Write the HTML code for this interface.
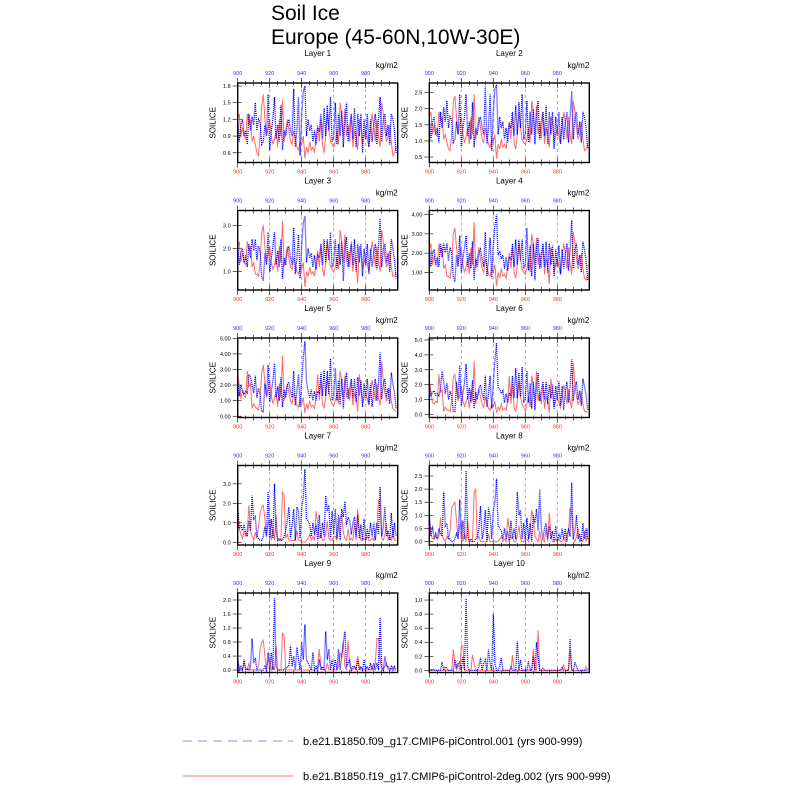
<!DOCTYPE html>
<html><head><meta charset="utf-8">
<style>
html,body{margin:0;padding:0;background:#fff;}
svg{display:block;font-family:"Liberation Sans",sans-serif;}
</style></head>
<body>
<svg id="chart" width="800" height="800" viewBox="0 0 800 800" xmlns="http://www.w3.org/2000/svg">
<text x="271" y="20" font-size="21">Soil Ice</text>
<text x="271" y="44" font-size="21">Europe (45-60N,10W-30E)</text>
<g id="panels"></g>
<g>
<line x1="183" y1="741" x2="293" y2="741" stroke="#8888ff" stroke-width="1" stroke-dasharray="9,6"/>
<text x="303" y="745" font-size="11">b.e21.B1850.f09_g17.CMIP6-piControl.001 (yrs 900-999)</text>
<line x1="183" y1="776" x2="293" y2="776" stroke="#ff7777" stroke-width="1"/>
<text x="303" y="780" font-size="11">b.e21.B1850.f19_g17.CMIP6-piControl-2deg.002 (yrs 900-999)</text>
</g>
</svg>
<script>
const startYear = 900;
const xTicks = [900,920,940,960,980];
const layerNames = ["Layer 1","Layer 2","Layer 3","Layer 4","Layer 5","Layer 6","Layer 7","Layer 8","Layer 9","Layer 10"];
const yTicks = [[0.6,0.9,1.2,1.5,1.8],[0.5,1.0,1.5,2.0,2.5],[1.0,2.0,3.0],[1,2,3,4],[0,1,2,3,4,5],[0,1,2,3,4,5],[0,1,2,3],[0,0.5,1.0,1.5,2.0,2.5],[0,0.4,0.8,1.2,1.6,2.0],[0,0.2,0.4,0.6,0.8,1.0]];
const yTickDecimals = [1,1,1,2,2,1,1,1,1,1];
const yMins = [0.425,0.33,0.21,0.09,-0.08,-0.2,-0.14,-0.13,-0.07,-0.03];
const yMaxs = [1.854,2.80,3.64,4.21,5.02,5.13,3.94,2.9,2.2,1.1];

const blue1=[1.2,0.8,1.1,1.2,0.9,1.0,0.75,1.3,1.0,1.25,1.1,1.5,1.0,1.2,1.15,0.75,0.8,1.1,0.9,1.65,0.65,1.0,1.2,1.6,0.85,1.1,0.8,1.45,0.65,1.0,0.9,1.1,1.2,1.0,0.9,1.75,0.7,1.0,1.6,0.55,1.3,1.7,1.8,0.9,1.2,1.0,1.1,0.8,1.0,0.75,1.05,1.0,1.3,0.85,1.4,0.9,1.45,1.0,1.6,0.8,0.9,1.5,0.75,1.3,0.9,1.35,0.7,1.2,1.5,0.8,1.1,1.3,0.85,1.4,0.7,1.3,0.9,1.3,0.6,1.2,0.85,1.3,0.7,1.2,0.8,1.1,1.3,0.75,1.2,1.6,0.8,1.2,1.3,0.9,1.1,0.75,1.3,1.2,1.0,0.6];
const red1=[1.2,1.3,0.9,1.05,0.9,0.85,1.3,1.1,1.2,0.8,0.9,0.75,0.6,0.55,0.9,1.45,1.65,1.2,0.9,1.05,1.2,0.9,0.75,0.85,1.0,0.7,1.2,0.9,1.55,0.8,1.0,1.2,1.0,0.8,0.75,1.0,0.85,0.7,0.65,0.8,0.75,0.9,0.5,0.7,0.6,0.8,0.65,0.7,0.6,0.9,1.1,0.8,1.2,0.75,0.6,0.9,1.3,1.0,0.8,0.75,0.7,0.8,1.0,0.75,1.5,1.3,0.9,1.4,0.9,1.1,0.8,1.3,0.7,1.0,0.9,0.65,1.2,1.1,0.75,0.9,1.0,0.85,0.7,1.0,1.3,1.1,0.8,1.2,0.9,0.7,1.5,1.3,1.0,0.8,0.9,1.1,0.8,0.55,0.6,0.7];
const blue2=[1.75,1.05,1.6,1.75,1.2,1.4,0.95,1.9,1.4,2.05,1.6,2.25,1.4,1.75,1.65,0.95,1.05,1.6,1.2,2.45,0.8,1.4,1.75,2.45,1.15,1.6,1.05,2.2,0.8,1.4,1.2,1.6,1.75,1.4,1.2,2.7,0.9,1.4,2.45,0.7,1.9,2.6,2.75,1.2,1.75,1.4,1.6,1.05,1.4,0.95,1.5,1.4,1.9,1.15,2.1,1.2,2.2,1.4,2.45,1.05,1.2,2.25,0.95,1.9,1.2,2.0,0.9,1.75,2.25,1.05,1.6,1.9,1.15,2.1,0.9,1.9,1.2,1.9,0.75,1.75,1.15,1.9,0.9,1.75,1.05,1.6,1.9,0.95,1.75,2.55,1.05,1.75,1.9,1.2,1.6,0.95,1.9,1.75,1.4,0.75];
const red2=[1.75,1.9,1.2,1.5,1.2,1.15,1.9,1.6,1.75,1.05,1.2,0.95,0.75,0.7,1.2,2.2,2.4,1.75,1.2,1.5,1.75,1.2,0.95,1.15,1.4,0.9,1.75,1.2,2.45,1.05,1.4,1.75,1.4,1.05,0.95,1.4,1.15,0.9,0.8,1.05,0.95,1.2,0.45,0.9,0.75,1.05,0.8,0.9,0.75,1.2,1.6,1.05,1.75,0.95,0.75,1.2,1.9,1.4,1.05,0.95,0.9,1.05,1.4,0.95,2.25,1.9,1.2,2.1,1.2,1.6,1.05,1.9,0.9,1.4,1.2,0.8,1.75,1.6,0.95,1.2,1.4,1.15,0.9,1.4,1.9,1.6,1.05,1.75,1.2,0.9,2.25,1.9,1.4,1.05,1.2,1.6,1.05,0.7,0.75,0.9];
const blue3=[2.1,1.3,1.8,2.0,1.4,1.7,1.2,2.2,1.6,2.4,1.9,2.4,1.5,2.1,1.9,0.8,0.6,1.8,1.3,2.7,1.0,1.6,2.1,2.7,1.3,1.9,1.2,2.4,0.7,1.6,1.3,1.9,2.1,1.6,1.3,2.9,0.9,1.6,2.6,0.7,2.2,3.1,3.4,1.4,2.0,1.6,1.8,1.2,1.7,1.1,1.7,1.6,2.2,1.3,2.4,1.4,2.4,1.5,2.7,1.2,1.4,2.4,1.1,2.2,1.3,2.3,0.6,2.0,2.5,1.2,1.8,2.2,1.3,2.4,1.0,2.2,1.4,2.2,0.8,2.0,1.3,2.2,0.9,2.0,1.2,1.8,2.2,1.1,2.0,3.3,1.2,2.0,2.2,1.4,1.8,1.0,2.4,2.0,1.5,0.7];
const red3=[2.0,2.3,1.4,1.8,1.4,1.3,2.3,1.9,2.1,1.2,1.4,0.9,0.9,0.8,1.4,2.7,3.0,2.1,1.4,1.8,2.1,1.4,1.1,1.3,1.6,1.0,2.1,1.4,3.2,1.2,1.6,2.1,1.6,1.2,1.1,1.6,1.3,1.0,0.9,1.2,1.1,1.4,0.35,1.0,0.8,1.2,0.9,1.0,0.8,1.4,1.9,1.2,2.1,1.1,0.8,1.4,2.3,1.6,1.2,1.1,1.0,1.2,1.6,1.1,2.8,2.3,1.4,2.6,1.4,1.9,1.2,2.3,1.0,1.6,1.4,0.5,2.1,1.9,1.1,1.4,1.6,1.3,1.0,1.6,2.3,1.9,1.2,2.1,1.4,1.0,2.8,2.3,1.6,1.2,1.4,1.9,1.2,0.8,0.8,1.0];
const blue4=[2.4,1.3,2.0,2.2,1.4,1.8,1.3,2.5,1.8,2.5,2.0,2.5,1.6,2.3,2.0,0.8,0.5,1.9,1.3,2.9,1.0,1.7,2.3,2.9,1.3,2.0,1.2,2.6,0.6,1.7,1.3,2.0,2.2,1.7,1.3,3.1,0.8,1.7,2.8,0.7,2.4,3.4,4.0,1.9,2.1,1.7,1.9,1.2,1.8,1.1,1.8,1.7,2.5,1.3,2.7,1.4,2.7,1.6,2.7,1.2,1.4,3.3,1.1,2.4,0.8,2.5,0.6,2.2,2.8,1.2,1.9,2.5,1.3,2.6,1.0,2.5,1.4,2.4,0.8,2.2,1.3,2.4,0.9,2.2,1.2,1.9,2.5,1.1,2.2,3.7,1.2,2.2,2.5,1.4,1.9,1.0,2.6,2.2,1.6,0.6];
const red4=[2.2,2.5,1.4,1.9,1.4,1.3,2.5,2.0,2.3,1.2,1.4,0.8,0.8,0.7,1.4,3.0,3.3,2.3,1.4,1.9,2.3,1.4,1.0,1.3,1.7,0.9,2.3,1.4,3.6,1.2,1.7,2.3,1.7,1.2,1.0,1.7,1.3,0.9,0.8,1.2,1.0,1.4,0.3,1.0,0.7,1.2,0.8,0.9,0.7,1.4,2.0,1.2,2.3,1.0,0.7,1.4,2.5,1.7,1.2,1.0,0.9,1.2,1.7,1.0,3.0,2.5,1.4,2.8,1.4,2.0,1.2,2.5,0.9,1.7,1.4,0.4,2.3,2.0,1.0,1.4,1.7,1.3,0.9,1.7,2.5,2.0,1.2,2.3,1.4,0.9,3.1,2.5,1.7,1.2,1.4,2.0,1.2,0.7,0.6,0.9];
const blue5=[2.2,1.3,2.0,1.6,1.4,1.6,1.5,2.7,2.5,2.0,1.5,2.6,1.2,1.8,1.4,0.3,0.3,2.1,1.3,3.3,0.9,1.6,2.3,3.4,1.2,1.9,1.0,2.5,0.6,1.7,1.2,2.0,2.2,1.6,1.2,2.9,0.7,1.6,2.7,0.6,2.3,3.8,4.8,2.2,1.6,1.2,1.7,1.0,1.6,1.0,1.6,1.5,2.8,1.3,3.0,1.3,2.9,1.4,3.7,1.0,1.3,3.1,1.0,2.3,0.7,2.4,0.5,2.1,2.8,1.1,1.8,2.4,1.2,2.4,0.9,2.5,1.3,2.3,0.6,2.1,1.2,2.4,0.8,2.1,0.6,1.7,2.4,1.0,2.1,4.1,1.1,2.1,2.4,1.2,1.8,0.8,2.8,2.1,1.5,0.5];
const red5=[2.7,2.0,1.1,1.7,1.3,1.2,2.9,1.9,2.1,0.5,0.8,0.6,0.5,0.4,1.2,2.8,3.3,2.1,1.2,1.7,2.3,1.3,0.8,1.2,1.5,0.6,2.1,1.2,3.9,1.0,1.5,2.1,1.5,1.0,0.8,1.5,1.1,0.7,0.6,1.0,0.8,1.2,0.2,0.8,0.5,1.0,0.6,0.7,0.5,1.2,2.7,1.0,2.3,0.8,0.5,1.2,2.5,1.5,1.0,0.8,0.7,1.0,1.5,0.8,2.9,2.3,1.2,2.6,1.2,1.8,1.0,2.3,0.7,1.5,1.2,0.3,2.7,1.8,0.8,1.2,1.5,1.1,0.7,1.5,2.3,1.8,1.0,2.1,1.2,0.7,3.5,2.3,1.5,1.0,1.2,1.8,1.0,0.5,0.4,0.3];
const blue6=[2.1,1.3,1.5,1.6,1.3,1.4,1.2,1.8,2.9,2.2,1.4,2.1,1.0,1.5,1.3,0.2,0.2,2.2,1.1,3.3,0.6,1.4,2.1,3.4,1.0,1.8,0.8,2.3,0.4,1.5,1.0,1.8,2.0,1.4,1.0,2.6,0.5,1.4,2.6,0.4,2.1,3.6,4.8,1.8,1.7,1.4,1.6,0.8,1.4,0.8,1.4,1.3,2.6,1.1,3.1,1.1,2.8,1.2,3.2,0.8,1.1,2.9,0.8,2.1,0.4,2.2,0.3,1.9,2.8,0.9,1.6,2.2,1.0,2.2,0.7,2.0,1.1,2.0,0.4,1.9,1.0,2.2,0.6,1.9,0.3,1.5,2.2,0.8,1.9,3.7,0.9,1.9,2.2,1.0,1.6,0.6,2.4,1.9,1.3,0.3];
const red6=[2.4,1.5,0.8,0.7,0.9,0.8,2.7,1.5,1.7,0.2,0.5,0.3,0.3,0.2,0.9,2.5,2.7,1.7,0.9,1.3,1.9,1.0,0.5,0.9,1.2,0.4,1.7,0.9,3.6,0.7,1.2,1.7,1.2,0.7,0.5,1.2,0.8,0.4,0.3,0.7,0.5,0.9,0.1,0.5,0.3,0.7,0.3,0.4,0.3,0.9,2.6,0.7,2.0,0.5,0.2,0.9,2.2,1.2,0.7,0.5,0.2,0.7,1.2,0.5,2.6,2.0,0.9,2.9,0.9,1.5,0.7,2.0,0.4,1.2,0.9,0.1,2.4,1.5,0.5,0.9,1.2,0.8,0.4,1.2,2.0,1.5,0.7,1.7,0.9,0.4,3.5,2.0,1.2,0.7,0.9,1.5,0.7,0.2,0.2,0.1];
const blue7=[1.9,0.7,0.9,0.6,0.9,0.5,0.3,1.1,0.6,2.4,1.2,1.3,0.3,0.2,0.1,0.1,0.3,0.8,0.3,2.6,0.2,1.2,0.2,3.0,0.6,0.1,0.2,0.1,0.1,0.3,0.6,1.1,1.8,0.2,0.9,1.7,0.1,1.8,1.6,0.2,1.8,2.3,3.75,1.2,1.1,0.9,0.3,1.0,0.4,0.9,0.1,1.4,0.2,1.0,0.3,2.4,1.6,1.9,0.2,1.6,0.4,1.7,0.2,1.4,0.1,1.7,1.3,2.1,0.9,1.3,1.1,0.4,1.0,1.3,0.3,1.4,0.2,0.9,0.1,1.2,0.1,0.7,0.2,1.0,0.3,1.0,0.1,1.0,0.4,2.85,0.3,0.8,1.8,0.3,0.6,0.1,1.5,0.2,1.0,0.3];
const red7=[1.4,0.7,0.4,0.2,0.6,0.3,0.6,1.9,0.6,0.3,0.1,0.5,0.2,0.8,1.5,1.8,1.9,1.2,0.3,1.0,1.1,0.1,0.7,0.1,1.4,0.1,0.1,0.1,2.6,2.4,0.2,0.4,0.1,0.1,0.1,0.1,0.1,0.6,0.1,0.1,0.0,0.0,0.0,0.1,0.2,0.4,0.1,0.3,0.1,1.6,1.0,0.2,0.4,0.1,0.1,0.4,1.1,0.2,0.1,0.1,0.3,0.3,0.1,0.8,1.3,1.4,0.5,0.2,0.1,0.7,0.1,0.2,0.1,1.0,0.1,1.7,0.6,0.1,0.1,0.2,0.1,0.3,0.1,0.1,0.2,0.1,0.6,0.8,2.2,1.9,0.2,0.1,0.4,1.0,0.1,0.3,0.1,0.8,0.1,0.1];
const blue8=[1.1,0.2,0.6,0.1,0.3,0.1,0.5,0.3,0.2,1.9,0.6,0.7,0.1,0.1,0.0,0.0,0.1,0.3,0.1,1.6,0.1,0.8,0.1,2.7,0.2,0.0,0.1,0.0,0.0,0.1,0.2,0.5,1.35,0.1,0.4,1.2,0.0,1.3,1.0,0.1,1.2,1.5,2.4,0.6,0.5,0.4,0.1,0.5,0.1,0.4,0.0,0.8,0.1,0.5,0.1,1.9,1.0,1.2,0.1,0.7,0.1,0.9,0.1,0.7,0.0,1.0,0.7,1.25,0.4,2.0,0.5,0.1,0.5,0.7,0.1,0.6,0.1,0.4,0.0,0.6,0.0,0.3,0.1,0.5,0.1,0.5,0.0,0.5,0.2,2.25,0.1,0.4,1.0,0.1,0.3,0.0,0.7,0.1,0.5,0.1];
const red8=[0.9,0.3,0.1,0.1,0.2,0.1,0.2,0.9,0.2,0.1,0.0,0.2,0.1,0.4,1.3,1.4,1.5,0.8,0.1,0.6,0.7,0.0,0.3,0.0,0.8,0.0,0.0,0.0,1.9,2.0,0.1,0.2,0.0,0.0,0.0,0.0,0.0,0.3,0.0,0.0,0.0,0.0,0.0,0.0,0.1,0.2,0.0,0.1,0.0,0.9,0.5,0.1,0.2,0.0,0.0,0.2,0.6,0.1,0.0,0.0,0.1,0.1,0.0,0.4,1.2,0.9,0.2,0.1,0.0,0.4,0.0,0.1,0.0,0.5,0.0,1.1,0.3,0.0,0.0,0.1,0.0,0.1,0.0,0.0,0.1,0.0,0.3,0.4,1.3,1.1,0.1,0.0,0.2,0.5,0.0,0.1,0.0,0.4,0.0,0.5];
const blue9=[0.35,0.0,0.1,0.0,0.3,0.0,0.05,0.0,0.1,0.9,0.2,0.35,0.0,0.0,0.0,0.0,0.0,0.1,0.0,0.5,0.0,0.5,0.0,2.05,0.1,0.0,0.0,0.0,0.0,0.0,0.05,0.1,0.1,0.7,0.1,0.4,0.0,0.65,0.3,0.0,0.8,0.3,1.3,0.3,0.2,0.1,0.0,0.5,0.0,0.1,0.0,0.3,0.0,0.1,0.0,1.1,0.3,0.6,0.0,0.3,0.0,0.3,0.0,0.6,0.0,0.4,0.8,1.1,0.1,0.2,0.3,0.0,0.1,0.1,0.0,0.3,0.0,0.1,0.0,0.3,0.0,0.1,0.0,0.2,0.0,0.2,0.0,0.2,0.0,1.5,0.1,0.0,0.4,0.1,0.1,0.0,0.1,0.0,0.1,0.0];
const red9=[0.25,0.05,0.0,0.0,0.2,0.05,0.0,0.2,0.0,0.0,0.0,0.0,0.0,0.1,0.6,0.8,0.85,0.4,0.0,0.3,0.35,0.0,0.1,0.0,0.7,0.0,0.0,0.0,1.05,1.0,0.0,0.0,0.0,0.0,0.0,0.0,0.0,0.0,0.0,0.0,0.0,0.0,0.0,0.0,0.0,0.0,0.0,0.0,0.0,0.0,0.1,0.6,0.1,0.0,0.0,0.0,0.2,0.0,0.0,0.0,0.0,0.0,0.0,0.1,0.5,0.35,0.8,0.1,0.0,0.85,0.1,0.0,0.0,0.1,0.0,0.4,0.1,0.0,0.0,0.0,0.0,0.0,0.0,0.0,0.1,0.0,0.2,0.9,0.9,0.3,0.0,0.0,0.1,0.2,0.0,0.0,0.0,0.1,0.0,0.0];
const blue10=[0.0,0.0,0.02,0.0,0.0,0.0,0.0,0.0,0.12,0.0,0.05,0.03,0.0,0.0,0.0,0.0,0.15,0.05,0.1,0.12,0.0,0.2,0.0,1.02,0.05,0.0,0.0,0.0,0.0,0.0,0.0,0.05,0.18,0.0,0.1,0.15,0.0,0.3,0.1,0.0,0.8,0.1,0.0,0.0,0.05,0.18,0.0,0.0,0.0,0.0,0.0,0.05,0.0,0.0,0.0,0.41,0.0,0.15,0.0,0.0,0.0,0.0,0.13,0.0,0.0,0.2,0.0,0.4,0.2,0.0,0.0,0.03,0.0,0.0,0.0,0.0,0.0,0.0,0.0,0.0,0.0,0.0,0.0,0.05,0.0,0.0,0.0,0.0,0.45,0.0,0.0,0.12,0.05,0.0,0.0,0.0,0.0,0.0,0.0,0.0];
const red10=[0.02,0.0,0.0,0.0,0.0,0.0,0.0,0.0,0.0,0.0,0.0,0.0,0.0,0.0,0.0,0.3,0.1,0.0,0.1,0.0,0.35,0.35,0.0,0.0,0.0,0.0,0.0,0.22,0.1,0.0,0.0,0.0,0.0,0.0,0.0,0.0,0.0,0.0,0.0,0.0,0.0,0.0,0.0,0.0,0.0,0.0,0.0,0.0,0.0,0.0,0.0,0.0,0.22,0.0,0.0,0.0,0.0,0.0,0.0,0.0,0.0,0.0,0.0,0.0,0.0,0.3,0.0,0.0,0.57,0.0,0.0,0.0,0.0,0.0,0.0,0.0,0.0,0.0,0.0,0.0,0.0,0.0,0.0,0.0,0.08,0.0,0.0,0.0,0.28,0.0,0.0,0.0,0.0,0.0,0.0,0.0,0.0,0.0,0.05,0.0];

const blueSeries=[blue1,blue2,blue3,blue4,blue5,blue6,blue7,blue8,blue9,blue10];
const redSeries=[red1,red2,red3,red4,red5,red6,red7,red8,red9,red10];

const NS="http://www.w3.org/2000/svg";
const root=document.getElementById('panels');
function mk(tag,attrs,parent){const e=document.createElementNS(NS,tag);for(const k in attrs)e.setAttribute(k,attrs[k]);parent.appendChild(e);return e;}
const colLeft=[237.7,429.3], boxW=160, boxH=79.5, rowTop=[83,210.5,338,465.5,593];

for(let p=0;p<10;p++){
  const L=colLeft[p%2], T=rowTop[Math.floor(p/2)], B=T+boxH, R=L+boxW;
  const g=mk('g',{},root);
  
  
  const xs=v=>L+(v-startYear)/100*boxW;
  const ys=v=>B-(v-yMins[p])/(yMaxs[p]-yMins[p])*boxH;
  const t1=mk('text',{x:(L+R)/2,y:T-27,'font-size':8,'text-anchor':'middle'},g);t1.textContent=layerNames[p];
  
  
  const un=mk('text',{x:R,y:T-15,'font-size':8,'text-anchor':'end'},g);un.textContent='kg/m2';
  
  
  const yl=mk('text',{x:0,y:0,'font-size':8,'text-anchor':'middle',transform:`translate(${L-22},${(T+B)/2}) rotate(-90)`},g);yl.textContent='SOILICE';
  
  
  xTicks.slice(1).forEach(v=>{const gl=mk('line',{x1:xs(v),x2:xs(v),y1:T,y2:B,stroke:'#999','stroke-width':0.8,'stroke-dasharray':'3,3'},g);
    
    });
  for(let v=900;v<1000;v+=5){const len=(v%20===0)?5:(v%10===0?3:2);
    mk('line',{x1:xs(v),x2:xs(v),y1:B,y2:B-len,stroke:'#000','stroke-width':0.6},g);
    mk('line',{x1:xs(v),x2:xs(v),y1:T,y2:T+len,stroke:'#000','stroke-width':0.6},g);
    mk('line',{x1:xs(v),x2:xs(v),y1:B,y2:B+len,stroke:'#000','stroke-width':0.6},g);
    mk('line',{x1:xs(v),x2:xs(v),y1:T,y2:T-len,stroke:'#000','stroke-width':0.6},g);}
  xTicks.forEach(v=>{
    const a=mk('text',{x:xs(v),y:B+11,'font-size':5.5,'text-anchor':'middle',fill:'#ff3030'},g);a.textContent=v;
    
    
    const b=mk('text',{x:xs(v),y:T-8,'font-size':5.5,'text-anchor':'middle',fill:'#3030ff'},g);b.textContent=v;
    
    });
  yTicks[p].forEach(v=>{const y=ys(v);
    mk('line',{x1:L,x2:L-5,y1:y,y2:y,stroke:'#000','stroke-width':0.6},g);
    mk('line',{x1:L,x2:L+4,y1:y,y2:y,stroke:'#000','stroke-width':0.6},g);
    const t=mk('text',{x:L-7,y:y+2,'font-size':5.5,'text-anchor':'end'},g);t.textContent=v.toFixed(yTickDecimals[p]);
    
    });
  const clipId='clip'+p;
  const cp=mk('clipPath',{id:clipId},g);mk('rect',{x:L,y:T,width:boxW,height:boxH},cp);
  const toPts=arr=>arr.map((v,i)=>xs(startYear+i).toFixed(2)+','+ys(v).toFixed(2)).join(' ');
  const rl=mk('polyline',{points:toPts(redSeries[p]),fill:'none',stroke:'#ff5050','stroke-opacity':0.85,'stroke-width':1,'clip-path':`url(#${clipId})`},g);
  
  
  const bl=mk('polyline',{points:toPts(blueSeries[p]),fill:'none',stroke:'#0000ff','stroke-width':1.3,'stroke-dasharray':'1,1','clip-path':`url(#${clipId})`},g);
  
  
  const fr=mk('rect',{x:L,y:T,width:boxW,height:boxH,fill:'none',stroke:'#000','stroke-width':1.4},g);
  
  
}
</script>
</body></html>
